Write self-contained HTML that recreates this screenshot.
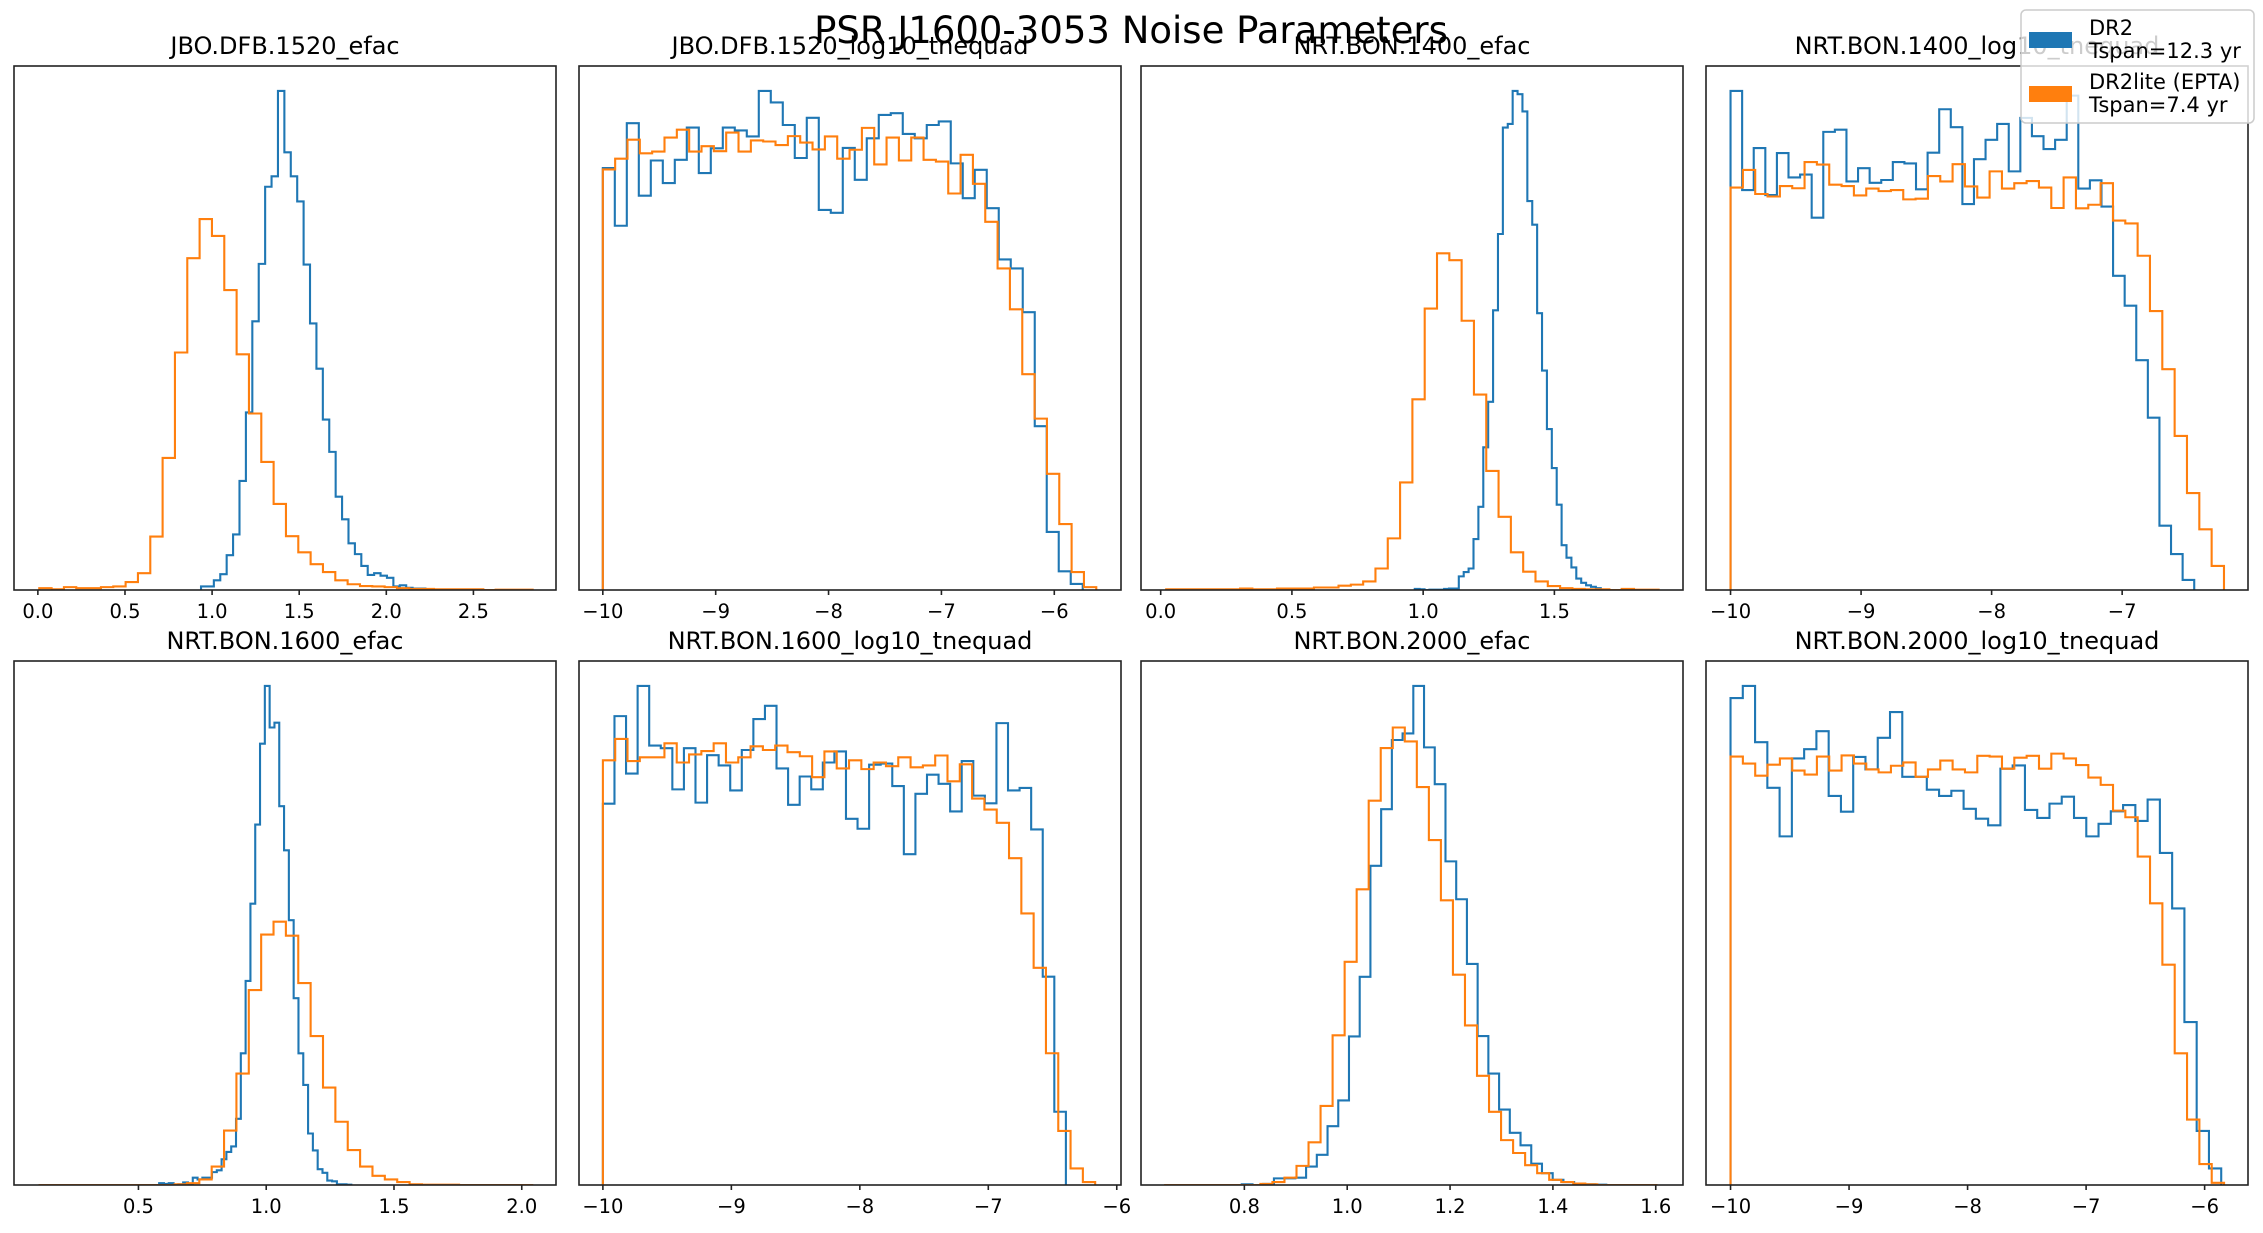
<!DOCTYPE html>
<html>
<head>
<meta charset="utf-8">
<style>
html,body{margin:0;padding:0;background:#fff;}
svg{display:block;font-family:"DejaVu Sans","Liberation Sans",sans-serif;}
</style>
</head>
<body>
<svg id="fig" width="2263" height="1233" viewBox="0 0 2263 1233" xmlns="http://www.w3.org/2000/svg">
<rect x="0" y="0" width="2263" height="1233" fill="#fff"/>
<text x="1131" y="43" font-size="37" text-anchor="middle" fill="#000">PSR J1600-3053 Noise Parameters</text>
<g id="panels"></g>
<g id="legend">
<rect x="2021" y="10" width="233" height="113" rx="5" fill="rgba(255,255,255,0.8)" stroke="#cccccc" stroke-width="1.5"/>
<rect x="2029" y="32" width="43" height="16" fill="#1f77b4"/>
<text x="2089" y="35" font-size="21" fill="#000">DR2</text>
<text x="2089" y="58" font-size="21" fill="#000">Tspan=12.3 yr</text>
<rect x="2029" y="86" width="43" height="16" fill="#ff7f0e"/>
<text x="2089" y="89" font-size="21" fill="#000">DR2lite (EPTA)</text>
<text x="2089" y="112" font-size="21" fill="#000">Tspan=7.4 yr</text>
</g>
</svg>
<script>
// ---- Panel titles ----
const titles = ["JBO.DFB.1520_efac","JBO.DFB.1520_log10_tnequad","NRT.BON.1400_efac","NRT.BON.1400_log10_tnequad",
  "NRT.BON.1600_efac","NRT.BON.1600_log10_tnequad","NRT.BON.2000_efac","NRT.BON.2000_log10_tnequad"];
// ---- x-limits per panel ----
const xMins = [-0.137,-10.211,-0.075,-10.188, 0.013,-10.186,0.599,-10.207];
const xMaxs = [2.974,-5.409,1.990,-6.036, 2.134,-5.967,1.653,-5.634];
// ---- tick values per panel ----
const ticks1 = [0,0.5,1.0,1.5,2.0,2.5];
const ticks2 = [-10,-9,-8,-7,-6];
const ticks3 = [0,0.5,1.0,1.5];
const ticks4 = [-10,-9,-8,-7];
const ticks5 = [0.5,1.0,1.5,2.0];
const ticks6 = [-10,-9,-8,-7,-6];
const ticks7 = [0.8,1.0,1.2,1.4,1.6];
const ticks8 = [-10,-9,-8,-7,-6];
// ---- bin starts / widths ----
const blueStarts = [0.9365,-10,0.968,-10,0.581,-10,0.649,-10];
const blueWidths = [0.0368,0.1063,0.01865,0.0888,0.0188,0.0901,0.02085,0.1035];
const orangeStarts = [0.008,-10,0.021,-10,0.109,-10,0.644,-10];
const orangeWidths = [0.0708,0.1093,0.0469,0.0945,0.0484,0.0958,0.0234,0.1041];
// ---- counts (DR2 = blue, DR2lite = orange) ----
const blue1 = [10,10,27,44,97,155,304,495,749,909,1124,1153,1391,1220,1153,1083,907,743,617,475,385,260,197,130,100,67,42,47,40,34,10,13,6,4,4];
const orange1 = [5,2,8,5,5,8,10,22,47,149,368,662,925,1034,987,836,657,492,357,240,150,105,72,50,27,16,11,10,8,5,3,3,2,2,2,2,0,1,1,1];
const blue2 = [1177,1016,1302,1100,1198,1135,1200,1290,1163,1232,1290,1282,1265,1392,1360,1297,1205,1317,1060,1052,1233,1144,1260,1325,1330,1272,1260,1297,1307,1190,1093,1172,1065,922,897,775,457,162,52,17];
const orange2 = [1173,1203,1256,1218,1223,1262,1284,1223,1238,1224,1276,1223,1254,1251,1241,1266,1248,1229,1265,1203,1228,1289,1187,1262,1198,1262,1200,1195,1106,1214,1133,1027,897,783,602,478,324,184,50,8];
const blue3 = [3,2,0,1,1,1,3,4,4,38,50,60,142,232,398,525,780,993,1290,1300,1392,1383,1335,1085,1019,772,612,449,340,238,125,90,63,32,20,13,9,5];
const orange3 = [2,2,2,2,2,2,4,2,2,4,4,4,7,7,12,15,24,60,144,300,532,785,939,920,751,545,332,204,105,51,24,11,5,3,2,2,0,3,1,1];
const blue4 = [1390,1114,1231,1100,1217,1149,1157,1037,1276,1282,1138,1175,1134,1142,1192,1188,1116,1218,1339,1289,1075,1200,1254,1298,1166,1315,1264,1228,1254,1377,1118,1141,1068,875,792,640,480,179,100,28];
const orange4 = [1121,1170,1103,1096,1125,1119,1192,1185,1129,1125,1099,1118,1111,1114,1088,1090,1153,1138,1186,1124,1093,1166,1118,1133,1139,1121,1064,1149,1063,1073,1133,1029,1021,931,777,615,429,270,169,67];
const blue5 = [5,3,5,0,2,7,3,20,15,20,20,35,40,70,90,105,180,358,555,765,980,1200,1357,1244,1257,1030,910,720,508,358,272,140,94,43,33,12,10,2,2,1];
const orange5 = [0,0,0,0,0,0,0,0,0,0,0,2,5,15,50,148,303,530,681,716,678,549,405,265,172,95,50,25,15,8,2,1,1,1,0,0,0,0,0,0];
const blue6 = [1036,1274,1118,1356,1194,1187,1075,1187,1039,1168,1140,1072,1182,1266,1302,1132,1033,1110,1075,1148,1178,995,968,1142,1145,1084,899,1063,1115,1090,1015,1152,1058,1037,1255,1072,1079,966,566,199];
const orange6 = [1154,1212,1152,1162,1162,1200,1148,1170,1179,1200,1148,1162,1192,1182,1194,1176,1165,1108,1178,1132,1154,1130,1148,1138,1162,1135,1140,1167,1097,1143,1050,1020,984,888,738,590,358,147,45,8];
const blue7 = [0,0,0,0,0,0,0,2,0,3,18,18,20,50,82,160,230,404,566,868,1022,1210,1228,1357,1190,1090,880,777,601,405,303,205,142,108,58,32,14,8,4,2,1];
const orange7 = [0,0,0,0,0,0,0,0,3,8,20,52,116,215,407,607,804,1045,1188,1244,1206,1082,938,774,572,434,297,199,122,87,54,32,14,8,4,2,0,0,0,0,0];
const blue8 = [1324,1357,1204,1080,948,1160,1185,1234,1058,1015,1164,1130,1216,1286,1110,1110,1075,1058,1072,1023,996,978,1132,1141,1020,998,1037,1056,998,948,982,1016,1033,990,1048,903,752,443,147,45];
const orange8 = [1165,1146,1113,1143,1160,1127,1116,1165,1127,1168,1146,1130,1122,1140,1149,1110,1130,1154,1130,1122,1167,1165,1132,1162,1167,1132,1173,1160,1142,1108,1088,1018,1000,893,766,599,358,178,57,6];

const tickSets = [ticks1,ticks2,ticks3,ticks4,ticks5,ticks6,ticks7,ticks8];
const blues = [blue1,blue2,blue3,blue4,blue5,blue6,blue7,blue8];
const oranges = [orange1,orange2,orange3,orange4,orange5,orange6,orange7,orange8];

const NS = "http://www.w3.org/2000/svg";
const colX = [14,579,1141,1706];
const rowY = [66,661];
const PW = 542, PH = 524;
const root = document.getElementById('panels');

function mk(tag, attrs){ const e=document.createElementNS(NS,tag); for(const k in attrs) e.setAttribute(k,attrs[k]); return e; }

function fmtTick(v, idx){
  if (idx===1||idx===3||idx===5||idx===7) return (v<0?"\u2212":"")+Math.abs(v).toFixed(0);
  return v.toFixed(1);
}

function stepPath(counts, start, width, xs, ys){
  let d = "M"+xs(start).toFixed(2)+","+ys(0).toFixed(2);
  for(let i=0;i<counts.length;i++){
    const a=start+i*width, b=start+(i+1)*width;
    d += " L"+xs(a).toFixed(2)+","+ys(counts[i]).toFixed(2)+" L"+xs(b).toFixed(2)+","+ys(counts[i]).toFixed(2);
  }
  d += " L"+xs(start+counts.length*width).toFixed(2)+","+ys(0).toFixed(2);
  return d;
}

for(let p=0;p<8;p++){
  const x0 = colX[p%4], y0 = rowY[Math.floor(p/4)];
  const g = mk('g',{});
  
  
  root.appendChild(g);
  const xs = v => x0 + (v - xMins[p])/(xMaxs[p]-xMins[p])*PW;
  const ymax = Math.max(...blues[p], ...oranges[p])*1.05;
  const ys = v => y0 + PH - v/ymax*PH;

  const t = mk('text',{x:x0+PW/2, y:y0-12, 'font-size':24, 'text-anchor':'middle', fill:'#000'});
  
  
  t.textContent = titles[p];
  g.appendChild(t);

  const clipId = 'clip'+p;
  const cp = mk('clipPath',{id:clipId});
  cp.appendChild(mk('rect',{x:x0,y:y0-2,width:PW,height:PH+2}));
  g.appendChild(cp);

  const pb = mk('path',{d:stepPath(blues[p], blueStarts[p], blueWidths[p], xs, ys), fill:'none', stroke:'#1f77b4', 'stroke-width':2.1, 'stroke-linejoin':'miter', 'clip-path':'url(#'+clipId+')'});
  
  
  g.appendChild(pb);
  const po = mk('path',{d:stepPath(oranges[p], orangeStarts[p], orangeWidths[p], xs, ys), fill:'none', stroke:'#ff7f0e', 'stroke-width':2.1, 'stroke-linejoin':'miter', 'clip-path':'url(#'+clipId+')'});
  
  
  g.appendChild(po);

  const frame = mk('rect',{x:x0, y:y0, width:PW, height:PH, fill:'none', stroke:'#222', 'stroke-width':1.6});
  
  
  g.appendChild(frame);

  const tk = tickSets[p];
  for(const v of tk){
    const xx = xs(v);
    const tl = mk('line',{x1:xx, x2:xx, y1:y0+PH, y2:y0+PH+5, stroke:'#222', 'stroke-width':1.6});
    
    
    g.appendChild(tl);
    const lb = mk('text',{x:xx, y:y0+PH+28, 'font-size':19.5, 'text-anchor':'middle', fill:'#000'});
    
    
    lb.textContent = fmtTick(v,p);
    g.appendChild(lb);
  }
}
</script>
</body>
</html>
